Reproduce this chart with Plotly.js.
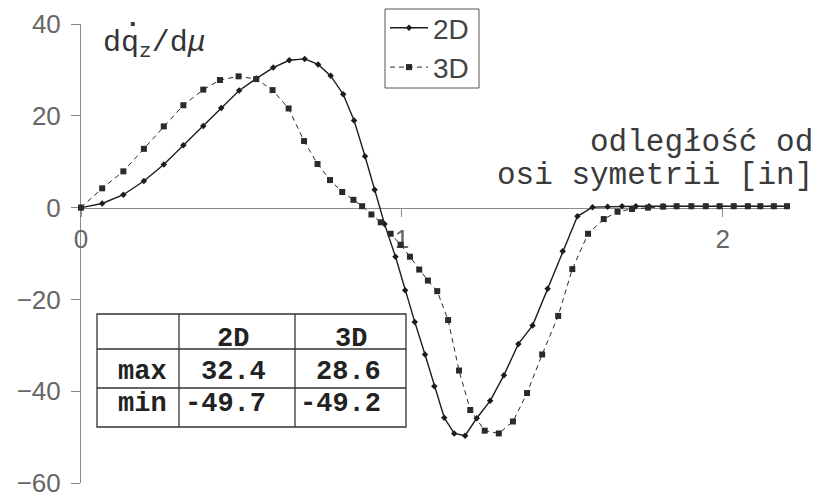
<!DOCTYPE html>
<html>
<head>
<meta charset="utf-8">
<script src="https://cdn.plot.ly/plotly-3.0.1.min.js"></script>
<style>
  html, body { margin: 0; padding: 0; background: #ffffff; }
  #chart { width: 823px; height: 495px; }
</style>
</head>
<body>
<div id="chart"></div>
<script>
// distance from the symmetry axis [in]
const x2D = [0, 0.066, 0.132, 0.196, 0.258, 0.319, 0.381, 0.437, 0.493, 0.546,
  0.599, 0.649, 0.697, 0.739, 0.778, 0.817, 0.851, 0.885, 0.915, 0.946,
  0.980, 1.010, 1.040, 1.072, 1.101, 1.132, 1.163, 1.197, 1.233, 1.275,
  1.318, 1.363, 1.407, 1.454, 1.501, 1.547, 1.594, 1.641, 1.686, 1.729,
  1.770, 1.814, 1.856, 1.902, 1.947, 1.990, 2.034, 2.078, 2.117, 2.159, 2.200];
const y2D = [0, 0.9, 2.8, 5.8, 9.4, 13.6, 17.8, 21.7, 25.5, 28.1,
  30.5, 32.1, 32.4, 31.2, 28.7, 24.7, 19.0, 11.2, 3.9, -3.6,
  -10.7, -18.0, -24.9, -32.0, -38.9, -45.8, -49.2, -49.7, -45.9, -42.1,
  -36.5, -29.7, -25.7, -17.7, -9.5, -1.9, 0.1, 0.2, 0.3, 0.3,
  0.3, 0.3, 0.3, 0.3, 0.3, 0.3, 0.3, 0.3, 0.3, 0.3, 0.3];

const x3D = [0, 0.066, 0.132, 0.196, 0.258, 0.319, 0.381, 0.433, 0.491, 0.546,
  0.597, 0.647, 0.695, 0.737, 0.776, 0.814, 0.849, 0.876, 0.905, 0.934,
  0.965, 0.996, 1.025, 1.054, 1.081, 1.110, 1.144, 1.178, 1.213, 1.258,
  1.302, 1.346, 1.390, 1.437, 1.487, 1.531, 1.580, 1.629, 1.672, 1.717,
  1.767, 1.814, 1.856, 1.902, 1.947, 1.990, 2.034, 2.078, 2.117, 2.159, 2.200];
const y3D = [0, 4.2, 7.9, 12.8, 17.7, 22.3, 25.7, 27.8, 28.6, 28.0,
  25.6, 21.6, 14.5, 9.5, 6.0, 3.4, 1.7, 0.3, -1.5, -3.2,
  -5.7, -8.1, -10.7, -13.5, -15.9, -18.2, -24.5, -35.5, -44.1, -48.6,
  -49.2, -46.6, -40.4, -32.0, -23.6, -13.4, -5.7, -2.5, -0.9, -0.3,
  0.0, 0.2, 0.3, 0.3, 0.3, 0.3, 0.3, 0.3, 0.3, 0.3, 0.3];

const seriesNames = ['2D', '3D'];
const rowLabels = ['max', 'min'];
const xTickVals = [0, 1, 2];
const xTickText = ['0', '1', '2'];
const yTickVals = [-60, -40, -20, 0, 20, 40];

const SANS = 'Liberation Sans, Arial, sans-serif';
const MONO = 'Liberation Mono, Courier New, monospace';

// extremes listed in the summary table come straight from the series
const fmt = v => v.toFixed(1);
const col2D = [fmt(Math.max(...y2D)), fmt(Math.min(...y2D))];
const col3D = [fmt(Math.max(...y3D)), fmt(Math.min(...y3D))];

// plot area geometry (px) used to place the inset table in paper units
const W = 823, H = 495, ML = 81, MR = 36, MT = 24, MB = 12;
const PW = W - ML - MR, PH = H - MT - MB;
const px = v => (v - ML) / PW;
const py = v => (H - MB - v) / PH;

// inset table frame
const tCols = [97, 179, 295, 406];
const tRows = [314, 349, 388, 427];
const tableShapes = [];
tableShapes.push({ type: 'rect', xref: 'paper', yref: 'paper',
  x0: px(tCols[0]), x1: px(tCols[3]), y0: py(tRows[3]), y1: py(tRows[0]),
  line: { color: '#333333', width: 1.3 }, fillcolor: '#ffffff', layer: 'above' });
tCols.slice(1, 3).forEach(c => tableShapes.push({ type: 'line', xref: 'paper', yref: 'paper',
  x0: px(c), x1: px(c), y0: py(tRows[3]), y1: py(tRows[0]),
  line: { color: '#333333', width: 1.3 }, layer: 'above' }));
tRows.slice(1, 3).forEach(r => tableShapes.push({ type: 'line', xref: 'paper', yref: 'paper',
  x0: px(tCols[0]), x1: px(tCols[3]), y0: py(r), y1: py(r),
  line: { color: '#333333', width: 1.3 }, layer: 'above' }));

const cellFont = { family: MONO, size: 27, color: '#222222' };
const textY = [339, 372, 404];
const tableText = [];
seriesNames.forEach((s, i) => tableText.push({
  xref: 'paper', yref: 'paper', x: px([233, 351][i]), y: py(textY[0]),
  xanchor: 'center', yanchor: 'middle', showarrow: false,
  text: '<b>' + s + '</b>', font: cellFont }));
rowLabels.forEach((s, r) => {
  tableText.push({ xref: 'paper', yref: 'paper', x: px(142), y: py(textY[r + 1]),
    xanchor: 'center', yanchor: 'middle', showarrow: false,
    text: '<b>' + s + '</b>', font: cellFont });
  tableText.push({ xref: 'paper', yref: 'paper', x: px(268), y: py(textY[r + 1]),
    xanchor: 'right', yanchor: 'middle', showarrow: false,
    text: '<b>' + col2D[r] + '</b>', font: cellFont });
  tableText.push({ xref: 'paper', yref: 'paper', x: px(383), y: py(textY[r + 1]),
    xanchor: 'right', yanchor: 'middle', showarrow: false,
    text: '<b>' + col3D[r] + '</b>', font: cellFont });
});

// legend frame
const legendFrame = { type: 'rect', xref: 'paper', yref: 'paper',
  x0: px(385), x1: px(479), y0: py(88), y1: py(9),
  line: { color: '#555555', width: 1 }, fillcolor: 'rgba(0,0,0,0)', layer: 'above' };

const traces = [
  {
    type: 'scatter', mode: 'lines+markers', name: seriesNames[0],
    x: x2D, y: y2D, cliponaxis: false,
    line: { color: '#1c1c1c', width: 1.4 },
    marker: { symbol: 'diamond', size: 5, color: '#1c1c1c' }
  },
  {
    type: 'scatter', mode: 'lines+markers', name: seriesNames[1],
    x: x3D, y: y3D, cliponaxis: false,
    line: { color: '#2a2a2a', width: 1, dash: '5px,4px' },
    marker: { symbol: 'square', size: 6, color: '#2a2a2a' }
  }
];

const layout = {
  width: W, height: H,
  margin: { l: ML, r: MR, t: MT, b: MB, pad: 0, autoexpand: false },
  paper_bgcolor: '#ffffff', plot_bgcolor: '#ffffff',
  showlegend: true,
  legend: {
    x: px(385), y: py(3), xanchor: 'left', yanchor: 'top',
    bgcolor: 'rgba(0,0,0,0)', borderwidth: 0,
    itemwidth: 38,
    font: { family: SANS, size: 28, color: '#444444' },
    tracegroupgap: 0
  },
  xaxis: {
    range: [0, 2.2], anchor: 'free', position: 0.6,
    showgrid: false, zeroline: false,
    showline: true, linecolor: '#8a8a8a', linewidth: 1,
    ticks: 'outside', ticklen: 8, tickcolor: '#8a8a8a',
    tickvals: xTickVals, ticktext: xTickText,
    ticklabelstandoff: 0,
    ticklabeloverflow: 'allow',
    tickfont: { family: SANS, size: 26, color: '#666666' },
    layer: 'below traces'
  },
  yaxis: {
    range: [-60, 40],
    showgrid: false, zeroline: false,
    showline: true, linecolor: '#8a8a8a', linewidth: 1,
    ticks: 'outside', ticklen: 9, tickcolor: '#8a8a8a',
    tickvals: yTickVals,
    ticklabelstandoff: 5,
    ticklabeloverflow: 'allow',
    tickfont: { family: SANS, size: 26, color: '#666666' },
    layer: 'below traces'
  },
  shapes: tableShapes.concat([legendFrame]),
  annotations: [
    {
      xref: 'paper', yref: 'paper', x: px(101), y: py(44),
      xanchor: 'left', yanchor: 'middle', showarrow: false,
      text: 'dq<sub>z</sub>/d<i>\u03bc</i>',
      font: { family: MONO, size: 30, color: '#333333' }
    },
    {
      // time-derivative dot above q
      xref: 'paper', yref: 'paper', x: px(133), y: py(24),
      xanchor: 'center', yanchor: 'middle', showarrow: false,
      text: '<b>\u00b7</b>',
      font: { family: MONO, size: 26, color: '#333333' }
    },
    {
      xref: 'paper', yref: 'paper', x: px(815), y: py(142),
      xanchor: 'right', yanchor: 'middle', showarrow: false,
      text: 'odległość od',
      font: { family: MONO, size: 31, color: '#3a3a3a' }
    },
    {
      xref: 'paper', yref: 'paper', x: px(815), y: py(175),
      xanchor: 'right', yanchor: 'middle', showarrow: false,
      text: 'osi symetrii [in]',
      font: { family: MONO, size: 31, color: '#3a3a3a' }
    }
  ].concat(tableText)
};

Plotly.newPlot('chart', traces, layout, { staticPlot: true, displayModeBar: false });
</script>
</body>
</html>
